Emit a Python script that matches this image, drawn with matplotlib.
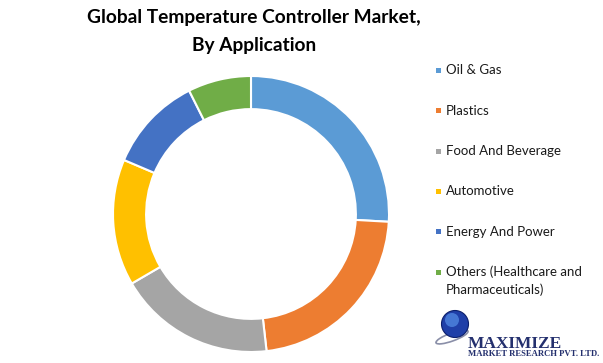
import matplotlib.pyplot as plt
from matplotlib.patches import Circle, Rectangle, Ellipse

# data (share, %)
categories = ['Oil & Gas', 'Plastics', 'Food And Beverage', 'Automotive',
              'Energy And Power', 'Others (Healthcare and\nPharmaceuticals)']
shares = [25.9, 22.3, 18.4, 14.8, 11.2, 7.4]
colors = ['#5B9BD5', '#ED7D31', '#A5A5A5', '#FFC000', '#4472C4', '#70AD47']

W, H = 603, 363
fig = plt.figure(figsize=(W / 100, H / 100), dpi=100)
fig.patch.set_facecolor('white')

# --- donut ---
cx, cy, r = 251, 214, 138
ax = fig.add_axes([(cx - r) / W, (H - cy - r) / H, 2 * r / W, 2 * r / H])
ax.pie(shares, colors=colors, startangle=90, counterclock=False,
       radius=1.0, wedgeprops=dict(width=0.24, edgecolor='white', linewidth=1.5))
ax.set_xlim(-1, 1)
ax.set_ylim(-1, 1)
ax.set_aspect('equal')
ax.axis('off')

# --- title ---
fig.text(254 / W, 1 - 18 / H, 'Global Temperature Controller Market,',
         ha='center', va='center', fontsize=13.8, fontweight='bold',
         family='Lato', color='black')
fig.text(254 / W, 1 - 46 / H, 'By Application',
         ha='center', va='center', fontsize=13.8, fontweight='bold',
         family='Lato', color='black')

# --- legend ---
ov = fig.add_axes([0, 0, 1, 1])
ov.set_xlim(0, W)
ov.set_ylim(H, 0)
ov.axis('off')

y0, step = 70.5, 40.3
for i, (lab, col) in enumerate(zip(categories, colors)):
    y = y0 + i * step
    ov.add_patch(Rectangle((435.5, y - 2.5), 5, 5, facecolor=col, edgecolor='none'))
    for k, line in enumerate(lab.split('\n')):
        ov.text(446, y + 18 * k, line, ha='left', va='center', fontsize=9.5,
                family='Lato', color='#1a1a1a')

# --- logo ---
ov.add_patch(Ellipse((452, 337), 34, 8, angle=-20, facecolor='none',
                     edgecolor='#8a8fa8', linewidth=1.2))
ov.add_patch(Circle((455, 324), 13.5, facecolor='#1f3fa8', edgecolor='#0c1f6b', linewidth=0.8))
ov.add_patch(Circle((452, 320), 7, facecolor='#4f86e0', edgecolor='none', alpha=0.8))
ov.text(468, 343.5, 'MAXIMIZE', ha='left', va='center', fontsize=12.5,
        family='Liberation Serif', fontweight='bold', color='#24306e')
ov.text(468, 354.5, 'MARKET RESEARCH PVT. LTD.', ha='left', va='center', fontsize=6.2,
        family='Liberation Serif', fontweight='bold', color='#24306e')

fig.savefig('out.png', dpi=100, facecolor='white')
